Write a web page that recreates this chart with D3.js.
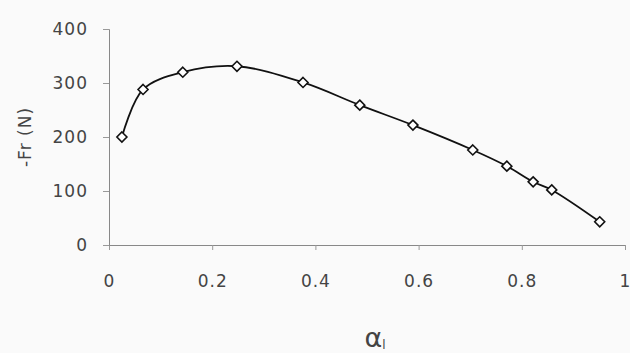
<!DOCTYPE html>
<html>
<head>
<meta charset="utf-8">
<script src="https://cdn.jsdelivr.net/npm/d3@7"></script>
<style>
  body { margin: 0; background: #fafafa; }
  svg { display: block; }
  text { font-family: "DejaVu Sans", Arial, sans-serif; fill: #444; }
</style>
</head>
<body>
<div id="chart"></div>
<script>
// Data
const alpha = [0.025, 0.066, 0.143, 0.248, 0.376, 0.486, 0.589, 0.705, 0.771, 0.822, 0.858, 0.951];
const force = [200, 288, 320, 331, 301, 259, 222, 176, 146, 117, 102, 43];
const xTicks = [0, 0.2, 0.4, 0.6, 0.8, 1];
const yTicks = [0, 100, 200, 300, 400];

const width = 630, height = 353;
const margin = { left: 109, right: 5, top: 29, bottom: 108 };

const svg = d3.select("#chart")
  .append("svg")
    .attr("width", width)
    .attr("height", height);

const xScale = d3.scaleLinear()
  .domain([0, 1])
  .range([margin.left, width - margin.right]);

const yScale = d3.scaleLinear()
  .domain([0, 400])
  .range([height - margin.bottom, margin.top]);

// Axes
const xAxis = svg.append("g")
  .attr("transform", `translate(0,${yScale(0)})`)
  .call(d3.axisBottom(xScale).tickValues(xTicks).tickSize(5).tickPadding(37)
    .tickFormat(d => d === 0 || d === 1 ? d : d3.format(".1f")(d)));

const yAxis = svg.append("g")
  .attr("transform", `translate(${xScale(0)},0)`)
  .call(d3.axisLeft(yScale).tickValues(yTicks).tickSize(6).tickPadding(15));

[xAxis, yAxis].forEach(g => {
  g.select(".domain").attr("stroke", "#888");
  g.selectAll(".tick line").attr("stroke", "#999");
  g.selectAll(".tick text")
    .style("font-size", "17px")
    .style("letter-spacing", "1px")
    .attr("fill", "#444");
});
xAxis.selectAll(".tick text").attr("dy", "0");

// Axis titles
svg.append("text")
  .attr("transform", `translate(31,${yScale(200)}) rotate(-90)`)
  .attr("text-anchor", "middle")
  .style("font-size", "17px")
  .style("letter-spacing", "1px")
  .text("-Fr (N)");

const xTitle = svg.append("text")
  .attr("x", 375)
  .attr("y", 347)
  .attr("text-anchor", "middle")
  .style("font-size", "27px");
xTitle.append("tspan").text("α");
xTitle.append("tspan")
  .attr("dy", 2)
  .style("font-size", "12px")
  .text("l");

// Smoothed line
const points = alpha.map((a, i) => ({ a, f: force[i] }));

const line = d3.line()
  .x(d => xScale(d.a))
  .y(d => yScale(d.f))
  .curve(d3.curveCatmullRom.alpha(0.5));

svg.append("path")
  .datum(points)
  .attr("d", line)
  .attr("fill", "none")
  .attr("stroke", "#111")
  .attr("stroke-width", 1.8);

// Diamond markers
const r = 5;
svg.selectAll(".marker")
  .data(points)
  .join("path")
    .attr("class", "marker")
    .attr("d", d => {
      const cx = xScale(d.a), cy = yScale(d.f);
      return `M${cx},${cy - r}L${cx + r},${cy}L${cx},${cy + r}L${cx - r},${cy}Z`;
    })
    .attr("fill", "#fff")
    .attr("stroke", "#111")
    .attr("stroke-width", 1.6);
</script>
</body>
</html>
